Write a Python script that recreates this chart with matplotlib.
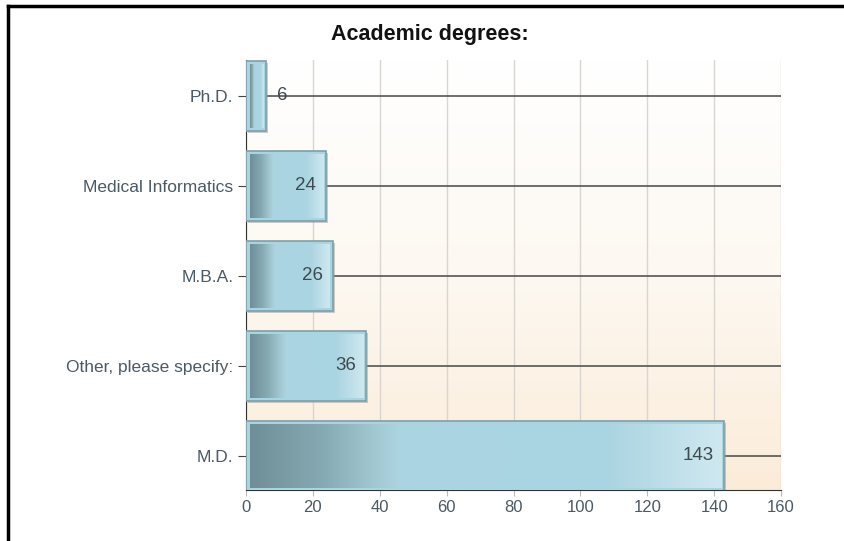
import numpy as np
import matplotlib.pyplot as plt
from matplotlib.colors import LinearSegmentedColormap
from matplotlib.patches import Rectangle
from matplotlib.lines import Line2D

plt.rcParams['font.family'] = ['Liberation Sans', 'DejaVu Sans']

# data
degrees = ['M.D.', 'Other, please specify:', 'M.B.A.', 'Medical Informatics', 'Ph.D.']
counts = [143, 36, 26, 24, 6]
xticks = [0, 20, 40, 60, 80, 100, 120, 140, 160]

fig = plt.figure(figsize=(8.44, 5.41), dpi=100)
ax = fig.add_axes([246/844, 1-490/541, 535/844, 430/541])

# background gradient white -> peach
bg = LinearSegmentedColormap.from_list('bg', ['#fbecd9', '#fdf8f1', '#ffffff'])
grad = np.linspace(0, 1, 256).reshape(-1, 1)
ax.imshow(grad, cmap=bg, extent=[0, 1, 0, 1], transform=ax.transAxes,
          origin='lower', aspect='auto', zorder=0)
ax.set_facecolor('white')

barcm = LinearSegmentedColormap.from_list('bar', [
    (0.0, '#6f8f98'), (0.15, '#85a9b2'), (0.28, '#a6ccd6'),
    (0.32, '#abd5e1'), (0.75, '#a9d4e1'), (1.0, '#cfe8f0')])
hgrad = np.linspace(0, 1, 256).reshape(1, -1)

h = 0.78
for i, v in enumerate(counts):
    # category line from bar end to right edge
    ax.plot([v, 160], [i, i], color='#555555', lw=1.2, zorder=2)
    # shadow
    ax.add_patch(Rectangle((0.6, i - h/2 - 0.02), v, h, facecolor='#9a9a9a',
                           alpha=0.5, edgecolor='none', zorder=3))
    ax.add_patch(Rectangle((0, i - h/2), v, h, facecolor='#a9d4e1',
                           edgecolor='#7f9fa8', lw=1.2, zorder=4))
    pad_x = 160 * 3.5 / 535
    pad_y = 0.035
    ax.imshow(hgrad, cmap=barcm, extent=[pad_x, v - pad_x, i - h/2 + pad_y, i + h/2 - pad_y],
              aspect='auto', zorder=5, interpolation='bilinear')
    if v < 15:
        ax.text(v + 3.2, i, str(v), ha='left', va='center', fontsize=13.5,
                color='#3f4a50', zorder=6)
    else:
        ax.text(v - 3, i, str(v), ha='right', va='center', fontsize=13.5,
                color='#3f4a50', zorder=6)

ax.set_xlim(0, 160)
ax.set_ylim(-0.38, 4.4)
ax.set_xticks(xticks)
ax.set_xticklabels([str(t) for t in xticks], color='#4a5a66', fontsize=12)
ax.set_yticks(range(len(degrees)))
ax.set_yticklabels(degrees, color='#4a5a66', fontsize=12.5)
ax.grid(axis='x', color='#d9d6d2', lw=1, zorder=1)
ax.set_axisbelow(True)
ax.tick_params(axis='y', length=6, color='#444444', pad=3)
ax.tick_params(axis='x', length=4, color='#bbbbbb', pad=3)
for s in ['top', 'right']:
    ax.spines[s].set_visible(False)
ax.spines['left'].set_color('#333333')
ax.spines['bottom'].set_color('#333333')

fig.text(429.5/844, 1-40/541, 'Academic degrees:', ha='center', va='baseline',
         fontsize=15.5, fontweight='bold', color='#111111')

# frame around the picture (left and top)
fig.add_artist(Line2D([7.5/844, 7.5/844], [0, 1-5.5/541], transform=fig.transFigure,
                      color='black', lw=2.5))
fig.add_artist(Line2D([7.5/844, 1], [1-5.5/541, 1-5.5/541], transform=fig.transFigure,
                      color='black', lw=2.5))

fig.savefig('out.png', dpi=100)
